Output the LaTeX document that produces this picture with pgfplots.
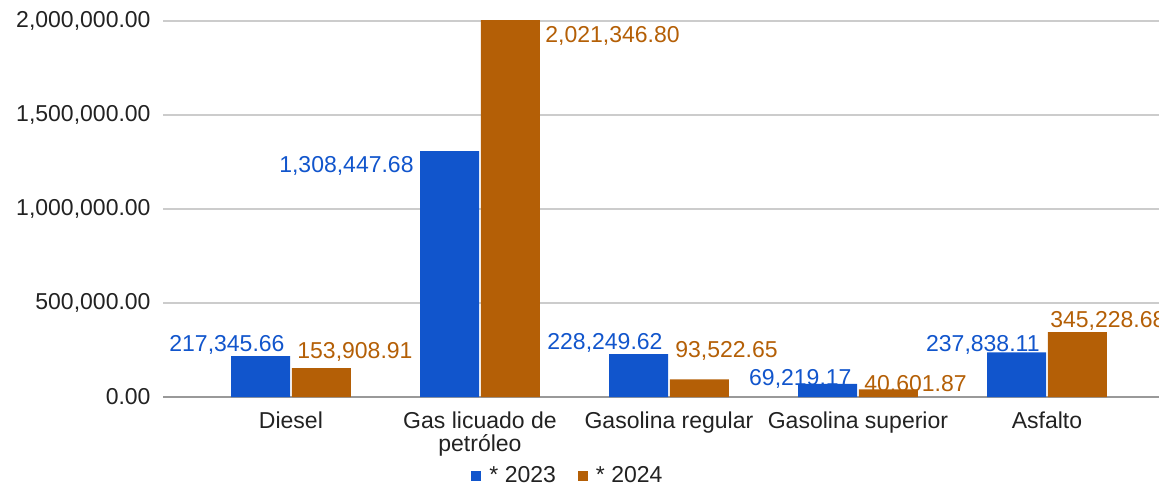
\documentclass[border=0pt]{standalone}
\usepackage{fontspec}
\setmainfont{Liberation Sans}
\usepackage{pgfplots}
\pgfplotsset{compat=1.18}
\definecolor{cblue}{HTML}{1155CC}
\definecolor{corange}{HTML}{B45F06}
\definecolor{gridc}{HTML}{CCCCCC}
\definecolor{basec}{HTML}{999999}
\definecolor{txt}{HTML}{222222}
\newcommand{\ff}{\fontsize{11.5}{11.6}\selectfont}
\begin{document}
\begin{tikzpicture}
\useasboundingbox (-81.5pt,-44.5pt) rectangle (498pt,198.5pt);
\begin{axis}[
  at={(0pt,0pt)}, anchor=south west,
  scale only axis, width=498pt, height=188pt,
  xmin=-0.677, xmax=4.593, ymin=0, ymax=2000000,
  ybar, bar width=0.312,
  axis line style={draw=none}, tick style={draw=none},
  ytick={0,500000,1000000,1500000,2000000},
  ymajorgrids, grid style={gridc, line width=0.6pt},
  scaled y ticks=false,
  yticklabel style={/pgf/number format/fixed, /pgf/number format/fixed zerofill,
    /pgf/number format/precision=2, /pgf/number format/1000 sep={,},
    /pgf/number format/assume math mode=true, font=\ff, text=txt, xshift=-2.7pt},
  xtick={0,1,2,3,4},
  xticklabels={Diesel, {Gas licuado de\\petróleo}, Gasolina regular, Gasolina superior, Asfalto},
  xticklabel style={align=center, font=\ff, text=txt, yshift=0.3pt},
  extra y ticks={0}, extra y tick labels={},
  extra y tick style={grid style={basec, line width=0.6pt}},
  clip mode=individual,
  legend columns=2,
  legend style={at={(0.4076,-0.210)}, anchor=center, draw=none, font=\ff, text=txt,
    /tikz/every odd column/.append style={column sep=2pt},
    /tikz/every even column/.append style={column sep=9pt}},
]
\addplot[fill=cblue, draw=none, bar shift=-0.161,
  legend image code/.code={\fill[cblue] (0pt,-2.5pt) rectangle (5pt,2.5pt);}]
  coordinates {(0,217345.66) (1,1308447.68) (2,228249.62) (3,69219.17) (4,237838.11)};
\addplot[fill=corange, draw=none, bar shift=0.161,
  legend image code/.code={\fill[corange] (0pt,-2.5pt) rectangle (5pt,2.5pt);}]
  coordinates {(0,153908.91) (1,2021346.80) (2,93522.65) (3,40601.87) (4,345228.68)};
\legend{* 2023, * 2024}
\begin{scope}[every node/.style={inner sep=0pt, font=\ff}]
\node[anchor=east, text=cblue] at (axis cs:-0.032,276600) {217,345.66};
\node[anchor=west, text=corange] at (axis cs:0.032,239400) {153,908.91};
\node[anchor=east, text=cblue] at (axis cs:0.651,1228700) {1,308,447.68};
\node[anchor=west, text=corange] at (axis cs:1.344,1920200) {2,021,346.80};
\node[anchor=east, text=cblue] at (axis cs:1.968,287200) {228,249.62};
\node[anchor=west, text=corange] at (axis cs:2.032,244700) {93,522.65};
\node[anchor=east, text=cblue] at (axis cs:2.968,95700) {69,219.17};
\node[anchor=west, text=corange] at (axis cs:3.032,63800) {40,601.87};
\node[anchor=east, text=cblue] at (axis cs:3.963,276600) {237,838.11};
\node[anchor=west, text=corange] at (axis cs:4.016,404300) {345,228.68};
\end{scope}
\end{axis}
\end{tikzpicture}
\end{document}
